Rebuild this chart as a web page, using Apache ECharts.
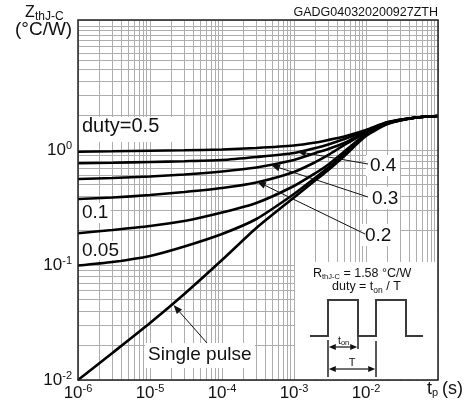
<!DOCTYPE html>
<html><head><meta charset="utf-8">
<script src="https://cdn.jsdelivr.net/npm/echarts@6/dist/echarts.min.js"></script>
<style>html,body{margin:0;padding:0;background:#fff}#c{width:473px;height:407px}</style>
</head><body><div id="c"></div>
<script>
// ---- data ----
const tp = [1e-6, 3e-6, 1e-5, 3e-5, 1e-4, 3e-4, 1e-3, 2e-3, 3e-3, 5e-3, 1e-2, 2e-2, 5e-2, 1e-1];
const zDuty05 = [0.966, 0.974, 0.984, 0.994, 1.010, 1.041, 1.094, 1.162, 1.222, 1.311, 1.493, 1.752, 1.917, 1.975];
const zDuty04 = [0.766, 0.774, 0.787, 0.799, 0.818, 0.869, 0.942, 1.041, 1.116, 1.246, 1.463, 1.741, 1.917, 1.975];
const zDuty03 = [0.560, 0.571, 0.588, 0.612, 0.650, 0.704, 0.818, 0.942, 1.020, 1.150, 1.434, 1.731, 1.917, 1.975];
const zDuty02 = [0.375, 0.386, 0.406, 0.431, 0.467, 0.522, 0.644, 0.787, 0.905, 1.105, 1.420, 1.717, 1.917, 1.975];
const zDuty01 = [0.1887, 0.2015, 0.2183, 0.2413, 0.2860, 0.3461, 0.4864, 0.631, 0.748, 0.970, 1.377, 1.707, 1.917, 1.975];
const zDuty005 = [0.0990, 0.1062, 0.1198, 0.1448, 0.1860, 0.2512, 0.4144, 0.5767, 0.704, 0.923, 1.350, 1.697, 1.917, 1.975];
const zSingle = [0.01, 0.01718, 0.0313, 0.0560, 0.1105, 0.2098, 0.3864, 0.5485, 0.670, 0.8868, 1.323, 1.683, 1.917, 1.975];
const xTickExps = [-6, -5, -4, -3, -2];
const yTickExps = [-2, -1, 0];
const gridMults = [2, 3, 4, 5, 6, 7, 8, 9];
const xDecades = [-6, -5, -4, -3, -2];
const yDecades = [-2, -1, 0];
const yExtraGrid = [11, 12];
const chartCode = 'GADG040320200927ZTH';

const X_MIN = 1e-6, X_MAX = 1e-1, Y_MIN = 0.01, Y_MAX = 13.5;
const FONT = 'Liberation Sans, Arial, sans-serif';
const chart = echarts.init(document.getElementById('c'), null, {renderer: 'canvas'});

function expFormatter(list) {
  return function (v) {
    const lg = Math.log10(v), e = Math.round(lg);
    if (Math.abs(lg - e) > 1e-6 || list.indexOf(e) < 0) return '';
    return '{b|10}{s|' + e + '}';
  };
}
const richExp = {
  b: {fontSize: 17, fontFamily: FONT, color: '#111', lineHeight: 20},
  s: {fontSize: 11, fontFamily: FONT, color: '#111', lineHeight: 17, verticalAlign: 'top'}
};

const xMinor = [], yMinor = [];
xDecades.forEach(d => gridMults.forEach(m => xMinor.push(m * Math.pow(10, d))));
yDecades.forEach(d => gridMults.forEach(m => yMinor.push(m * Math.pow(10, d))));
yExtraGrid.forEach(v => yMinor.push(v));

function curve(arr) {
  return {
    type: 'line', data: tp.map((t, i) => [t, arr[i]]), showSymbol: false,
    smooth: 0.22, lineStyle: {color: '#000', width: 2.6}, z: 3, silent: true
  };
}

function arrowEls(x1, y1, x2, y2, L, hw, lw) {
  const dx = x2 - x1, dy = y2 - y1, len = Math.hypot(dx, dy);
  const ux = dx / len, uy = dy / len, bx = x2 - ux * L, by = y2 - uy * L;
  return [
    {type: 'line', shape: {x1: x1, y1: y1, x2: bx, y2: by}, style: {stroke: '#111', lineWidth: lw}, z: 120},
    {type: 'polygon', shape: {points: [[x2, y2], [bx - uy * hw, by + ux * hw], [bx + uy * hw, by - ux * hw]]}, style: {fill: '#111'}, z: 120}
  ];
}
function txt(text, x, y, size, align, extra) {
  return Object.assign({type: 'text', x: x, y: y, z: 130,
    style: {text: text, font: size + 'px ' + FONT, fill: '#111', textAlign: align || 'left', textVerticalAlign: 'middle'}}, extra || {});
}
function box(x, y, w, h) {
  return {type: 'rect', shape: {x: x, y: y, width: w, height: h}, style: {fill: '#fff'}, z: 110};
}

const graphics = [
  // frame
  {type: 'rect', shape: {x: 78, y: 20, width: 360, height: 360}, style: {fill: 'none', stroke: '#222', lineWidth: 1.5}, z: 140},
  // titles
  txt('Z', 25, 12.8, 16),
  txt('thJ-C', 35, 16.5, 12),
  txt('(°C/W)', 15, 29.5, 19),
  txt(chartCode, 438, 12.4, 12.5, 'right'),
  txt('t', 427, 389, 18),
  txt('p', 432, 393, 11),
  txt('(s)', 442, 389, 18),
  // label boxes
  box(78.8, 117, 94, 25), txt('duty=0.5', 82, 126, 20),
  box(78.8, 203, 32, 20), txt('0.1', 82, 213, 19),
  box(78.8, 241, 42, 19), txt('0.05', 82, 250.4, 19),
  box(366, 155, 34, 21), txt('0.4', 370, 165.4, 19),
  box(366, 187, 34, 22), txt('0.3', 372, 198.4, 19),
  box(362, 224, 38, 22), txt('0.2', 365, 235.4, 19),
  box(145, 343, 110, 25), txt('Single pulse', 148, 354.4, 19),
  // inset
  box(295, 262, 142.2, 117.2),
  {type: 'text', x: 313, y: 273.2, z: 130, style: {text: '{a|R}{b|thJ-C}{a| = 1.58 °C/W}', textVerticalAlign: 'middle',
    rich: {a: {fontSize: 12.5, fontFamily: FONT, fill: '#111', lineHeight: 16}, b: {fontSize: 7.5, fontFamily: FONT, fill: '#111', lineHeight: 8, verticalAlign: 'bottom'}}}},
  {type: 'text', x: 332, y: 287, z: 130, style: {text: '{a|duty = t}{b|on}{a| / T}', textVerticalAlign: 'middle',
    rich: {a: {fontSize: 12.5, fontFamily: FONT, fill: '#111', lineHeight: 16}, b: {fontSize: 8.5, fontFamily: FONT, fill: '#111', lineHeight: 9, verticalAlign: 'bottom'}}}},
  {type: 'polyline', shape: {points: [[310, 336], [328, 336], [328, 300], [358, 300], [358, 336], [376, 336], [376, 300], [406, 300], [406, 336], [423, 336]]},
    style: {stroke: '#3a3a3a', lineWidth: 2, fill: 'none'}, z: 125},
  {type: 'line', shape: {x1: 328, y1: 340, x2: 328, y2: 377}, style: {stroke: '#222', lineWidth: 1.5}, z: 125},
  {type: 'line', shape: {x1: 358, y1: 337, x2: 358, y2: 349}, style: {stroke: '#222', lineWidth: 1.5}, z: 125},
  {type: 'line', shape: {x1: 376, y1: 341, x2: 376, y2: 377}, style: {stroke: '#222', lineWidth: 1.5}, z: 125},
  {type: 'text', x: 338, y: 341, z: 130, style: {text: '{a|t}{b|on}', textVerticalAlign: 'middle',
    rich: {a: {fontSize: 10.5, fontFamily: FONT, fill: '#111', lineHeight: 12}, b: {fontSize: 7.5, fontFamily: FONT, fill: '#111', lineHeight: 8, verticalAlign: 'bottom'}}}},
  txt('T', 352, 363, 11, 'center')
];
graphics.push(...arrowEls(343, 347, 328.8, 347, 7, 3, 1.2), ...arrowEls(343, 347, 357.2, 347, 7, 3, 1.2));
graphics.push(...arrowEls(352, 369, 328.8, 369, 7, 3, 1.2), ...arrowEls(352, 369, 375.2, 369, 7, 3, 1.2));
graphics.push(...arrowEls(368, 164, 297, 151.5, 9, 3.5, 1));
graphics.push(...arrowEls(368, 197, 271, 165, 9, 3.5, 1));
graphics.push(...arrowEls(365, 234, 257, 181.5, 9, 3.5, 1));
graphics.push(...arrowEls(207, 343, 173.5, 305, 9, 3.5, 1));

const gridLineStyle = {color: '#adadad', width: 1, type: 'solid', opacity: 1};
const gridLinesData = xMinor.map(v => ({coords: [[v, Y_MIN], [v, Y_MAX]]}))
  .concat(yMinor.map(v => ({coords: [[X_MIN, v], [X_MAX, v]]})));

chart.setOption({
  animation: false,
  backgroundColor: '#fff',
  grid: {left: 78, top: 20, right: 35, bottom: 27, show: true, backgroundColor: '#fff', borderWidth: 0},
  xAxis: {
    type: 'log', logBase: 10, min: X_MIN, max: X_MAX,
    axisLine: {show: false}, axisTick: {show: false},
    splitLine: {show: true, lineStyle: gridLineStyle},
    axisLabel: {formatter: expFormatter(xTickExps), rich: richExp, margin: 3, showMaxLabel: false}
  },
  yAxis: {
    type: 'log', logBase: 10, min: Y_MIN, max: Y_MAX,
    axisLine: {show: false}, axisTick: {show: false},
    splitLine: {show: true, lineStyle: gridLineStyle},
    axisLabel: {formatter: expFormatter(yTickExps), rich: richExp, margin: 6}
  },
  series: [
    {type: 'lines', coordinateSystem: 'cartesian2d', polyline: false, silent: true, z: 1,
      lineStyle: gridLineStyle, effect: {show: false}, data: gridLinesData},
    curve(zDuty05), curve(zDuty04), curve(zDuty03), curve(zDuty02), curve(zDuty01), curve(zDuty005), curve(zSingle)
  ],
  graphic: graphics
});
</script></body></html>
